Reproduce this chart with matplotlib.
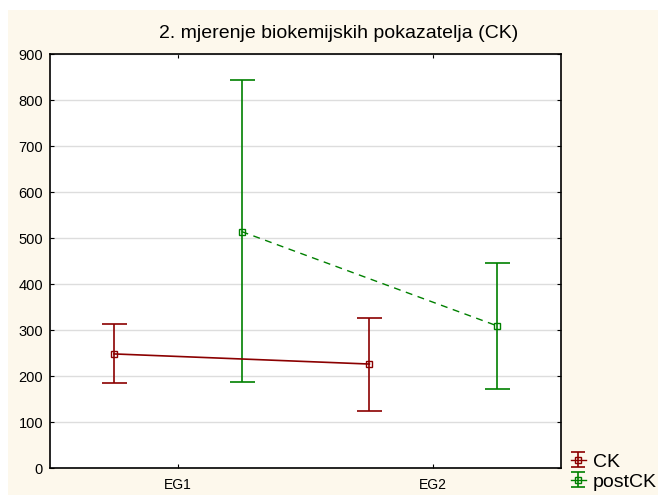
import numpy as np
import matplotlib.pyplot as plt
from matplotlib.patches import Rectangle
from matplotlib.legend_handler import HandlerErrorbar

plt.rcParams['font.family'] = ['Liberation Sans', 'DejaVu Sans']

groups = ['EG1', 'EG2']
ck_mean = [248, 226]
ck_low = [185, 124]
ck_high = [313, 327]
post_mean = [514, 309]
post_low = [187, 172]
post_high = [843, 446]

red = '#8b0000'
green = '#008000'

fig = plt.figure(figsize=(6.58, 4.95), dpi=100)
fig.patch.set_facecolor('white')
fig.patches.append(Rectangle((8 / 658, 0), 1, 1 - 10 / 495, transform=fig.transFigure,
                             facecolor='#fdf8ec', edgecolor='none', zorder=-10))

ax = fig.add_axes([50 / 658, 27 / 495, 511 / 658, 414 / 495])
ax.set_facecolor('white')

x = np.arange(len(groups))
ck_mean = np.array(ck_mean)
post_mean = np.array(post_mean)

ck = ax.errorbar(x, ck_mean,
                 yerr=[ck_mean - np.array(ck_low), np.array(ck_high) - ck_mean],
                 color=red, lw=1.2, ls='-', marker='s', ms=5, mfc='none', mec=red,
                 capsize=9, elinewidth=1.2, capthick=1.2)
post = ax.errorbar(x + 0.5, post_mean,
                   yerr=[post_mean - np.array(post_low), np.array(post_high) - post_mean],
                   color=green, lw=1.0, ls=(0, (5, 4)), marker='s', ms=5, mfc='none', mec=green,
                   capsize=9, elinewidth=1.2, capthick=1.2)
for c in (ck, post):
    for b in c[2]:
        b.set_linestyle('-')

# small proxies for the legend
handles = []
for col, lab in [(red, 'CK'), (green, 'postCK')]:
    h = ax.errorbar([np.nan], [np.nan], yerr=[1], color=col, ls='-', lw=1.0, marker='s', ms=4,
                    mfc='none', mec=col, capsize=5, elinewidth=1.2, capthick=1.2, label=lab)
    handles.append(h)

ax.set_xlim(-0.25, 1.75)
ax.set_ylim(0, 900)
ax.set_yticks(np.arange(0, 1000, 100))
ax.set_xticks(x + 0.25)
ax.set_xticklabels(groups)
ax.yaxis.grid(True, color='#dddddd', lw=1)
ax.set_axisbelow(True)
ax.tick_params(direction='in', length=3, width=0.8, top=True, right=True, pad=5)
ax.tick_params(axis='y', labelsize=10.5)
ax.tick_params(axis='x', labelsize=10, pad=7)
for s in ax.spines.values():
    s.set_linewidth(1.2)

fig.text(339 / 658, 1 - 33 / 495, '2. mjerenje biokemijskih pokazatelja (CK)',
         ha='center', va='center', fontsize=14)

fig.legend(handles=handles, loc='lower left', bbox_to_anchor=(559 / 658, -0.015),
           frameon=False, fontsize=14, handlelength=0.8, handleheight=0.8,
           handletextpad=0.35, labelspacing=0.1, borderaxespad=0.2,
           handler_map={type(handles[0]): HandlerErrorbar(yerr_size=0.38)})

fig.savefig('out.png', dpi=100, facecolor=fig.get_facecolor())
